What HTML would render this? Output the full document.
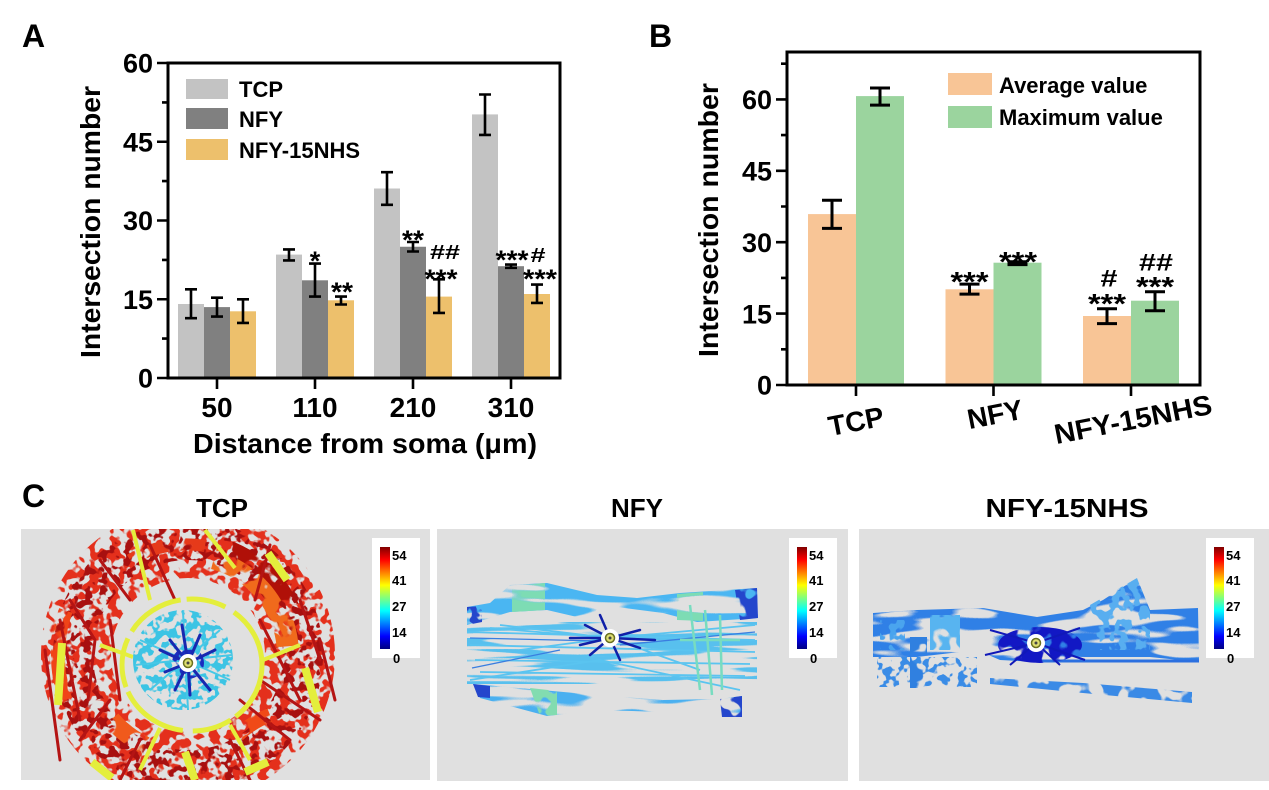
<!DOCTYPE html>
<html><head><meta charset="utf-8"><style>
html,body{margin:0;padding:0;background:#fff;}
svg{display:block;}
</style></head><body>
<svg width="1269" height="790" viewBox="0 0 1269 790" xmlns="http://www.w3.org/2000/svg" font-family="'Liberation Sans', Arial, sans-serif" font-weight="bold">
<defs>
<linearGradient id="jet" x1="0" y1="0" x2="0" y2="1">
<stop offset="0" stop-color="#800000"/><stop offset="0.125" stop-color="#ff0000"/><stop offset="0.375" stop-color="#ffff00"/><stop offset="0.625" stop-color="#00ffff"/><stop offset="0.875" stop-color="#0000ff"/><stop offset="1" stop-color="#000080"/>
</linearGradient>
<filter id="tx1" filterUnits="userSpaceOnUse" x="0" y="520" width="1269" height="270" color-interpolation-filters="sRGB">
<feTurbulence type="fractalNoise" baseFrequency="0.1" numOctaves="2" seed="3" result="n"/>
<feColorMatrix in="n" type="matrix" values="0 0 0 0 0  0 0 0 0 0  0 0 0 0 0  16 0 0 0 -7.8" result="m"/>
<feComposite in="SourceGraphic" in2="m" operator="in"/>
</filter>
<filter id="tx2" filterUnits="userSpaceOnUse" x="0" y="520" width="1269" height="270" color-interpolation-filters="sRGB">
<feTurbulence type="fractalNoise" baseFrequency="0.12" numOctaves="2" seed="8" result="n"/>
<feColorMatrix in="n" type="matrix" values="0 0 0 0 0  0 0 0 0 0  0 0 0 0 0  16 0 0 0 -8.4" result="m"/>
<feComposite in="SourceGraphic" in2="m" operator="in"/>
</filter>
<filter id="tx3" filterUnits="userSpaceOnUse" x="0" y="520" width="1269" height="270" color-interpolation-filters="sRGB">
<feTurbulence type="fractalNoise" baseFrequency="0.06" numOctaves="2" seed="5" result="n"/>
<feColorMatrix in="n" type="matrix" values="0 0 0 0 0  0 0 0 0 0  0 0 0 0 0  16 0 0 0 -6.9" result="m"/>
<feComposite in="SourceGraphic" in2="m" operator="in"/>
</filter>
<filter id="tx4" filterUnits="userSpaceOnUse" x="0" y="520" width="1269" height="270" color-interpolation-filters="sRGB">
<feTurbulence type="fractalNoise" baseFrequency="0.13" numOctaves="2" seed="2" result="n"/>
<feColorMatrix in="n" type="matrix" values="0 0 0 0 0  0 0 0 0 0  0 0 0 0 0  16 0 0 0 -7.7" result="m"/>
<feComposite in="SourceGraphic" in2="m" operator="in"/>
</filter>
<filter id="txh" filterUnits="userSpaceOnUse" x="0" y="520" width="1269" height="270" color-interpolation-filters="sRGB">
<feTurbulence type="fractalNoise" baseFrequency="0.012 0.07" numOctaves="2" seed="6" result="n"/>
<feColorMatrix in="n" type="matrix" values="0 0 0 0 0  0 0 0 0 0  0 0 0 0 0  16 0 0 0 -7.0" result="m"/>
<feComposite in="SourceGraphic" in2="m" operator="in"/>
</filter>
<filter id="txh2" filterUnits="userSpaceOnUse" x="0" y="520" width="1269" height="270" color-interpolation-filters="sRGB">
<feTurbulence type="fractalNoise" baseFrequency="0.008 0.15" numOctaves="2" seed="12" result="n"/>
<feColorMatrix in="n" type="matrix" values="0 0 0 0 0  0 0 0 0 0  0 0 0 0 0  16 0 0 0 -8.6" result="m"/>
<feComposite in="SourceGraphic" in2="m" operator="in"/>
</filter>
<clipPath id="c1"><rect x="21" y="529" width="409" height="251"/></clipPath>
<clipPath id="c2"><rect x="437" y="529" width="411" height="252"/></clipPath>
<clipPath id="c3"><rect x="859" y="529" width="410" height="252"/></clipPath>
</defs>

<!-- ================= PANEL A ================= -->
<text x="22" y="47" font-size="32">A</text>
<rect x="178" y="304" width="26" height="74" fill="#c3c3c3"/>
<rect x="204" y="307.1" width="26" height="70.9" fill="#808080"/>
<rect x="230" y="311.3" width="26" height="66.7" fill="#edc06c"/>
<rect x="276" y="254.6" width="26" height="123.4" fill="#c3c3c3"/>
<rect x="302" y="280.3" width="26" height="97.7" fill="#808080"/>
<rect x="328" y="300.3" width="26" height="77.7" fill="#edc06c"/>
<rect x="374" y="188.5" width="26" height="189.5" fill="#c3c3c3"/>
<rect x="400" y="246.75" width="26" height="131.25" fill="#808080"/>
<rect x="426" y="296.6" width="26" height="81.4" fill="#edc06c"/>
<rect x="472" y="114.4" width="26" height="263.6" fill="#c3c3c3"/>
<rect x="498" y="266.2" width="26" height="111.8" fill="#808080"/>
<rect x="524" y="294" width="26" height="84" fill="#edc06c"/>
<path fill="none" stroke="#000" stroke-width="2.6" d="
M185 289.3H197M191 289.3V318.2M185 318.2H197
M211 297.7H223M217 297.7V316.6M211 316.6H223
M237 299.3H249M243 299.3V322.9M237 322.9H249
M283 249.4H295M289 249.4V260.4M283 260.4H295
M309 263.6H321M315 263.6V296.6M309 296.6H321
M335 296.6H347M341 296.6V304.5M335 304.5H347
M381 172.2H393M387 172.2V204.8M381 204.8H393
M407 242H419M413 242V251.5M407 251.5H419
M433 279.3H445M439 279.3V312.9M433 312.9H445
M479 94.5H491M485 94.5V134.9M479 134.9H491
M505 264.6H517M511 264.6V267.8M505 267.8H517
M531 284.6H543M537 284.6V302.9M531 302.9H543"/>
<rect x="168" y="63" width="392" height="315" fill="none" stroke="#000" stroke-width="3"/>
<path fill="none" stroke="#000" stroke-width="2.6" d="M157 378H168M157 299.25H168M157 220.5H168M157 141.75H168M157 63H168M162 338.6H168M162 259.9H168M162 181.1H168M162 102.4H168M217 378V389M315 378V389M413 378V389M511 378V389"/>
<g font-size="27" text-anchor="end">
<text x="153" y="387.7">0</text><text x="153" y="309">15</text><text x="153" y="230.2">30</text><text x="153" y="151.5">45</text><text x="153" y="72.7">60</text>
</g>
<g font-size="28" text-anchor="middle">
<text x="217" y="417">50</text><text x="315" y="417">110</text><text x="413" y="417">210</text><text x="511" y="417">310</text>
<text x="365" y="453" textLength="344" lengthAdjust="spacingAndGlyphs">Distance from soma (μm)</text>
<text transform="translate(100,222) rotate(-90)" textLength="272" lengthAdjust="spacingAndGlyphs">Intersection number</text>
</g>
<rect x="186" y="79" width="42" height="20" fill="#c3c3c3"/>
<rect x="186" y="108" width="42" height="21" fill="#808080"/>
<rect x="186" y="139" width="42" height="21" fill="#edc06c"/>
<g font-size="22">
<text x="239" y="97">TCP</text><text x="239" y="127">NFY</text><text x="239" y="158">NFY-15NHS</text>
</g>
<g font-size="27" text-anchor="middle">
<text x="315" y="270">*</text>
<text x="342" y="301" textLength="22" lengthAdjust="spacingAndGlyphs">**</text>
<text x="413" y="249" textLength="22" lengthAdjust="spacingAndGlyphs">**</text>
<text x="441" y="288" textLength="33" lengthAdjust="spacingAndGlyphs">***</text>
<text x="512" y="269" textLength="33" lengthAdjust="spacingAndGlyphs">***</text>
<text x="540" y="288" textLength="34" lengthAdjust="spacingAndGlyphs">***</text>
</g>
<g font-size="20" text-anchor="middle">
<text x="445" y="259" textLength="30" lengthAdjust="spacingAndGlyphs">##</text>
<text x="538" y="262" textLength="15" lengthAdjust="spacingAndGlyphs">#</text>
</g>

<!-- ================= PANEL B ================= -->
<text x="649" y="47" font-size="32">B</text>
<rect x="808" y="214.1" width="48" height="170.9" fill="#f8c596"/>
<rect x="856" y="96.1" width="48" height="288.9" fill="#9bd49e"/>
<rect x="945.5" y="289.3" width="48" height="95.7" fill="#f8c596"/>
<rect x="993.5" y="262.7" width="48" height="122.3" fill="#9bd49e"/>
<rect x="1083" y="316" width="48" height="69" fill="#f8c596"/>
<rect x="1131" y="300.7" width="48" height="84.3" fill="#9bd49e"/>
<path fill="none" stroke="#000" stroke-width="3" d="
M822 200.3H842M832 200.3V228.4M822 228.4H842
M870 88H890M880 88V105.1M870 105.1H890
M959.5 284.1H979.5M969.5 284.1V294.1M959.5 294.1H979.5
M1007.5 261.7H1027.5M1017.5 261.7V264.6M1007.5 264.6H1027.5
M1097 308.8H1117M1107 308.8V323.6M1097 323.6H1117
M1145 291.7H1165M1155 291.7V310.7M1145 310.7H1165"/>
<rect x="787" y="52" width="413" height="333" fill="none" stroke="#000" stroke-width="3"/>
<path fill="none" stroke="#000" stroke-width="2.6" d="M776 385H787M776 313.6H787M776 242.2H787M776 170.8H787M776 99.4H787M781 349.3H787M781 277.9H787M781 206.5H787M781 135.1H787M781 63.7H787M856 385V396M993.5 385V396M1131 385V396"/>
<g font-size="27" text-anchor="end">
<text x="772" y="394.7">0</text><text x="772" y="323.3">15</text><text x="772" y="251.9">30</text><text x="772" y="180.5">45</text><text x="772" y="109.1">60</text>
</g>
<g font-size="28" text-anchor="middle">
<text transform="translate(718,220) rotate(-90)" textLength="274" lengthAdjust="spacingAndGlyphs">Intersection number</text>
<text transform="translate(856,421) rotate(-11)" y="10">TCP</text>
<text transform="translate(995,414) rotate(-11)" y="10">NFY</text>
<text transform="translate(1133,419) rotate(-11)" y="10" textLength="160" lengthAdjust="spacingAndGlyphs">NFY-15NHS</text>
</g>
<rect x="948" y="73" width="44" height="22" fill="#f8c596"/>
<rect x="948" y="106" width="44" height="22" fill="#9bd49e"/>
<g font-size="22">
<text x="999" y="93">Average value</text><text x="999" y="125">Maximum value</text>
</g>
<g font-size="28" text-anchor="middle">
<text x="969.5" y="291" textLength="38" lengthAdjust="spacingAndGlyphs">***</text>
<text x="1018" y="271" textLength="38" lengthAdjust="spacingAndGlyphs">***</text>
<text x="1107" y="313" textLength="38" lengthAdjust="spacingAndGlyphs">***</text>
<text x="1155" y="296" textLength="38" lengthAdjust="spacingAndGlyphs">***</text>
</g>
<g font-size="24" text-anchor="middle">
<text x="1109" y="286.6" textLength="17" lengthAdjust="spacingAndGlyphs">#</text>
<text x="1156" y="270.6" textLength="34" lengthAdjust="spacingAndGlyphs">##</text>
</g>

<!-- ================= PANEL C ================= -->
<text x="22" y="507" font-size="32">C</text>
<g font-size="26" text-anchor="middle">
<text x="222" y="517">TCP</text>
<text x="637" y="517">NFY</text>
<text x="1067" y="517" textLength="163" lengthAdjust="spacingAndGlyphs">NFY-15NHS</text>
</g>

<!-- TCP image -->
<rect x="21" y="529" width="409" height="251" fill="#e0e0e0"/>
<g clip-path="url(#c1)">
  <circle cx="188" cy="655" r="112" fill="none" stroke="#e4301c" stroke-width="70" filter="url(#tx1)"/>
  <circle cx="188" cy="655" r="115" fill="none" stroke="#a81010" stroke-width="40" filter="url(#tx2)"/>
  <g fill="none" filter="url(#tx3)">
    <path d="M213.9,558.4 A100,100 0 0 1 287.6,646.3" stroke="#f06a1c" stroke-width="22"/>
    <path d="M227.3,546.9 A115,115 0 0 1 292.2,606.4" stroke="#b01008" stroke-width="14"/>
    <path d="M65.8,699.5 A130,130 0 0 1 65.8,610.5" stroke="#f04418" stroke-width="14"/>
    <path d="M145.7,745.6 A100,100 0 0 1 111.4,719.3" stroke="#f05a1c" stroke-width="18"/>
    <path d="M235,738 A100,100 0 0 1 270,715" stroke="#f04a18" stroke-width="14"/>
    <path d="M130,560 A110,110 0 0 1 205,546" stroke="#e63a1a" stroke-width="12"/>
  </g>
  <path fill="none" stroke="#b41414" stroke-width="3" stroke-linecap="round" d="M70,600 L95,640 L88,700 M100,560 L130,600 M60,620 L80,720 M240,700 L290,740 M260,680 L320,720 M230,740 L250,780 M140,740 L120,780 M300,600 L320,660 M150,545 L175,600 M270,545 L255,600 M80,740 L110,700 M110,620 L120,700 M260,620 L300,700 M320,640 L335,700 M45,650 L60,760"/>
  <g fill="none" stroke="#e4ee3c" stroke-linecap="butt">
    <ellipse cx="192" cy="665" rx="70" ry="66" stroke-width="5" stroke-dasharray="60 6 40 10 70 5 50 8"/>
    <path d="M150,600 L133,530 M205,530 L235,568 M100,645 L133,657 M263,660 L300,645 M160,728 L140,770 M230,725 L250,760" stroke-width="4"/>
    <path d="M62,643 L58,705 M92,762 L112,778 M185,752 L195,780 M245,772 L268,762 M305,668 L318,712 M268,553 L287,580" stroke-width="8"/>
  </g>
  <circle cx="183" cy="660" r="50" fill="#3cc4e4" filter="url(#tx4)"/>
  <path fill="none" stroke="#46c8e6" stroke-width="2" d="M140,640 L230,680 M150,690 L220,630 M183,612 L188,710 M135,665 L232,655"/>
  <circle cx="188" cy="663" r="16" fill="#1a2cc0" filter="url(#tx1)"/>
  <path fill="none" stroke="#1828b0" stroke-width="3" stroke-linecap="round" d="M188,663 L170,640 M188,663 L160,650 M188,663 L175,690 M188,663 L200,635 M188,663 L215,650 M188,663 L210,690 M188,663 L190,695 M188,663 L165,672 M188,663 L182,625"/>
  <circle cx="188" cy="663" r="9" fill="#fff"/>
  <circle cx="188" cy="663" r="4.5" fill="#dede70" stroke="#6a7020" stroke-width="1.5"/>
  <circle cx="188" cy="663" r="1.5" fill="#444"/>
</g>
<rect x="372" y="538" width="48" height="120" fill="#fff"/>
<rect x="380" y="547" width="10" height="102" fill="url(#jet)"/>
<g font-size="13">
<text x="392" y="560">54</text><text x="392" y="585">41</text><text x="392" y="611">27</text><text x="392" y="637">14</text><text x="393" y="663">0</text>
</g>

<!-- NFY image -->
<rect x="437" y="529" width="411" height="252" fill="#e0e0e0"/>
<g clip-path="url(#c2)">
  <polygon points="510,585 547,583 597,595 637,598 680,593 757,588 758,618 697,622 663,613 617,607 590,620 547,610 510,612 490,618 467,625 467,607 490,603" fill="#4ab6f2" filter="url(#txh)"/>
  <polygon points="512,586 545,583 545,610 512,612" fill="#7ddcb4" filter="url(#txh)"/>
  <polygon points="677,594 703,592 703,621 677,620" fill="#7ddcb4" filter="url(#txh)"/>
  <polygon points="735,590 757,588 758,618 740,620" fill="#2446cc" filter="url(#tx3)"/>
  <polygon points="467,607 482,606 482,622 467,625" fill="#2446cc" filter="url(#tx1)"/>
  <polygon points="473,684 530,689 597,695 663,700 720,699 742,696 742,716 663,712 597,710 547,716 480,698" fill="#4ab0f0" filter="url(#txh)"/>
  <polygon points="530,688 557,691 557,715 540,716" fill="#82dcb0" filter="url(#tx3)"/>
  <polygon points="473,684 490,686 490,698 478,697" fill="#2446cc"/>
  <polygon points="720,699 742,696 742,717 722,717" fill="#2446cc" filter="url(#tx3)"/>
  <rect x="467" y="622" width="290" height="62" fill="#58c0ee" filter="url(#txh2)"/>
  <path fill="none" stroke="#5ac4f0" stroke-width="1.8" d="M467,632 L755,640 M470,645 L755,652 M475,660 L750,664 M480,672 L745,676 M490,628 L610,638 L755,625 M520,650 L610,638 L700,670 M500,625 L610,638 M470,680 L600,660 L740,690"/>
  <path fill="none" stroke="#3a7ee0" stroke-width="1.3" d="M470,638 L600,641 M620,645 L755,632 M472,668 L560,650"/>
  <path fill="none" stroke="#78dcc0" stroke-width="2.5" d="M690,605 L700,690 M705,610 L712,695 M720,615 L722,690 M680,640 L740,640"/>
  <path fill="none" stroke="#1020a8" stroke-width="2.5" stroke-linecap="round" d="M610,638 L585,625 M610,638 L580,645 M610,638 L590,655 M610,638 L640,630 M610,638 L640,648 M610,638 L600,615 M610,638 L620,660 M610,638 L570,638 M610,638 L655,640"/>
  <circle cx="610" cy="638" r="9" fill="#fff"/>
  <circle cx="610" cy="638" r="4.5" fill="#dede70" stroke="#6a7020" stroke-width="1.5"/>
  <circle cx="610" cy="638" r="1.5" fill="#444"/>
</g>
<rect x="789" y="538" width="48" height="120" fill="#fff"/>
<rect x="797" y="547" width="10" height="102" fill="url(#jet)"/>
<g font-size="13">
<text x="809" y="560">54</text><text x="809" y="585">41</text><text x="809" y="611">27</text><text x="809" y="637">14</text><text x="810" y="663">0</text>
</g>

<!-- NFY-15NHS image -->
<rect x="859" y="529" width="410" height="252" fill="#e0e0e0"/>
<g clip-path="url(#c3)">
  <polygon points="873,613 917,610 983,608 1037,617 1083,610 1103,600 1137,578 1150,610 1198,608 1199,662 1150,657 1083,657 1037,662 1000,660 977,650 917,657 873,657" fill="#3080e6" filter="url(#txh)"/>
  <polygon points="1090,605 1137,578 1150,612 1150,650 1100,650" fill="#58aef0" filter="url(#tx1)"/>
  <polygon points="930,615 960,615 960,650 930,650" fill="#58b4f0" filter="url(#tx3)"/>
  <polygon points="880,620 905,620 905,650 880,650" fill="#4aa4ee" filter="url(#tx1)"/>
  <polygon points="877,657 977,657 977,687 877,687" fill="#3a8ce6" filter="url(#tx2)"/>
  <polygon points="910,637 927,637 927,688 910,688" fill="#3080e0" filter="url(#tx3)"/>
  <polygon points="990,678 1083,683 1192,692 1192,703 1083,693 990,684" fill="#3a8ae6" filter="url(#tx3)"/>
  <path fill="none" stroke="#2c70e0" stroke-width="3" d="M1037,661 L1199,661"/>
  <ellipse cx="1040" cy="645" rx="42" ry="18" fill="#1218c4" filter="url(#tx3)"/>
  <path fill="none" stroke="#1018b8" stroke-width="2" d="M1036,643 L990,630 M1036,643 L985,655 M1036,643 L1080,628 M1036,643 L1085,660 M1036,643 L1010,665 M1036,643 L1060,665"/>
  <circle cx="1036" cy="643" r="9" fill="#fff"/>
  <circle cx="1036" cy="643" r="4.5" fill="#dede70" stroke="#6a7020" stroke-width="1.5"/>
  <circle cx="1036" cy="643" r="1.5" fill="#444"/>
</g>
<rect x="1206" y="538" width="48" height="120" fill="#fff"/>
<rect x="1214" y="547" width="10" height="102" fill="url(#jet)"/>
<g font-size="13">
<text x="1226" y="560">54</text><text x="1226" y="585">41</text><text x="1226" y="611">27</text><text x="1226" y="637">14</text><text x="1227" y="663">0</text>
</g>
</svg>
</body></html>
